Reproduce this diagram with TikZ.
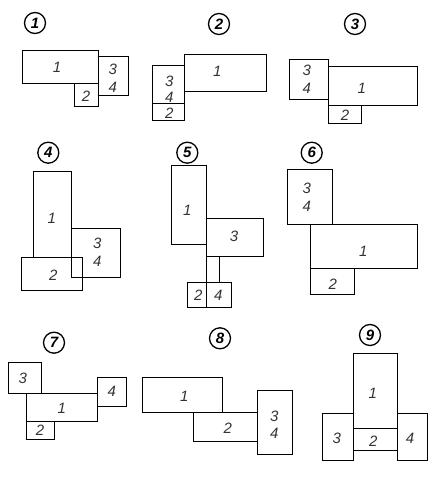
\documentclass[tikz,border=0pt]{standalone}
\usepackage{fontspec}
\setmainfont{Liberation Sans}
\usepackage{tikz}
\usetikzlibrary{fit,calc}

\begin{document}
\begin{tikzpicture}[
  x=1pt, y=-1pt,
  blk/.style={draw=black, line width=0.8pt, inner sep=0pt, outer sep=0pt},
  num/.style={font=\fontsize{15}{16}\selectfont\itshape, text=black!80, inner sep=0pt},
  tag/.style={circle, draw=black, line width=1.3pt, minimum size=21pt, inner sep=0pt,
    font=\fontsize{15}{16}\selectfont\bfseries\itshape}
]
\useasboundingbox (0,0) rectangle (442,484);

% layout 1
\node[tag] (t1) at (35,23) {1};
\node[blk, fit={(22.3,50) (98.3,83.3)}] (d1a) {};
\node[blk, fit={(98.3,56.7) (128,95.7)}] (d1c) {};
\node[blk, fit={(74,83.3) (98.3,106)}] (d1b) {};
\node[num] at (57,67) {1};
\node[num] at (112.7,69) {3};
\node[num] at (112.7,87) {4};
\node[num] at (86,96.7) {2};

% layout 2
\node[tag] (t2) at (219,24) {2};
\node[blk, fit={(184.3,54.3) (266,91.7)}] (d2a) {};
\node[blk, fit={(152.3,65.3) (184.3,103.3)}] (d2c) {};
\node[blk, fit={(152.3,103.3) (184.3,120)}] (d2b) {};
\node[num] at (217.3,71.7) {1};
\node[num] at (169.3,81) {3};
\node[num] at (169.3,97.3) {4};
\node[num] at (169.3,113.3) {2};

% layout 3
\node[tag] (t3) at (355,24) {3};
\node[blk, fit={(289.3,59) (328.3,99)}] (d3c) {};
\node[blk, fit={(328.3,66) (417,105.3)}] (d3a) {};
\node[blk, fit={(328.3,105.3) (361,123.3)}] (d3b) {};
\node[num] at (306.7,70) {3};
\node[num] at (306.7,88.3) {4};
\node[num] at (361.7,88.3) {1};
\node[num] at (345,115) {2};

% layout 4
\node[tag] (t4) at (48.3,152.7) {4};
\node[blk, fit={(33,171.3) (71,257.7)}] (d4a) {};
\node[blk, fit={(71,228) (120,277.3)}] (d4c) {};
\node[blk, fit={(21,257.7) (82.3,290.3)}] (d4b) {};
\node[num] at (51.7,218.3) {1};
\node[num] at (97.3,243.3) {3};
\node[num] at (97.3,261) {4};
\node[num] at (53.3,275.3) {2};

% layout 5
\node[tag] (t5) at (187.3,152.7) {5};
\node[blk, fit={(171.3,165) (206.7,244.7)}] (d5a) {};
\node[blk, fit={(206.7,218.7) (263.3,256.7)}] (d5c) {};
\node[blk, fit={(187.3,282.7) (206.7,307.3)}] (d5b) {};
\node[blk, fit={(206.7,282.7) (231.7,307.3)}] (d5d) {};
\draw[line width=0.8pt] (d5c.south west) -- (d5c.south west |- d5b.north);
\draw[line width=0.8pt] (d5d.north |- d5c.south) -- (d5d.north);
\node[num] at (187.3,210) {1};
\node[num] at (234,236.7) {3};
\node[num] at (198.3,295) {2};
\node[num] at (218.3,295) {4};

% layout 6
\node[tag] (t6) at (311.7,152.7) {6};
\node[blk, fit={(287.3,169) (332.3,224.3)}] (d6c) {};
\node[blk, fit={(310.3,224.3) (417.3,268)}] (d6a) {};
\node[blk, fit={(310.3,268) (354,294)}] (d6b) {};
\node[num] at (306.7,188.3) {3};
\node[num] at (306.7,206) {4};
\node[num] at (363.3,251.7) {1};
\node[num] at (332.7,284) {2};

% layout 7
\node[tag] (t7) at (54,342.7) {7};
\node[blk, fit={(8,362.7) (41.3,393)}] (d7c) {};
\node[blk, fit={(26.7,393) (97.7,421.3)}] (d7a) {};
\node[blk, fit={(97.7,377.3) (126.7,406.3)}] (d7d) {};
\node[blk, fit={(26.7,421.3) (54.3,439)}] (d7b) {};
\node[num] at (22.7,378.3) {3};
\node[num] at (61.7,408.3) {1};
\node[num] at (111.7,391) {4};
\node[num] at (40,430.7) {2};

% layout 8
\node[tag] (t8) at (220,338.3) {8};
\node[blk, fit={(142.3,377.3) (222.7,412.3)}] (d8a) {};
\node[blk, fit={(193.3,412.3) (257.7,441.7)}] (d8b) {};
\node[blk, fit={(257.7,390.3) (292,454.7)}] (d8c) {};
\node[num] at (184.3,396) {1};
\node[num] at (227.7,428.3) {2};
\node[num] at (274.3,416.7) {3};
\node[num] at (274.3,433.3) {4};

% layout 9
\node[tag] (t9) at (370,335) {9};
\node[blk, fit={(353.7,353.3) (397,428.3)}] (d9a) {};
\node[blk, fit={(353.7,428.3) (397,450.7)}] (d9b) {};
\node[blk, fit={(322.3,413.7) (353.7,460)}] (d9c) {};
\node[blk, fit={(397,413.7) (427.7,460)}] (d9d) {};
\node[num] at (372.7,393.3) {1};
\node[num] at (373.3,441.7) {2};
\node[num] at (336.7,438.3) {3};
\node[num] at (410,438.3) {4};

\end{tikzpicture}
\end{document}
